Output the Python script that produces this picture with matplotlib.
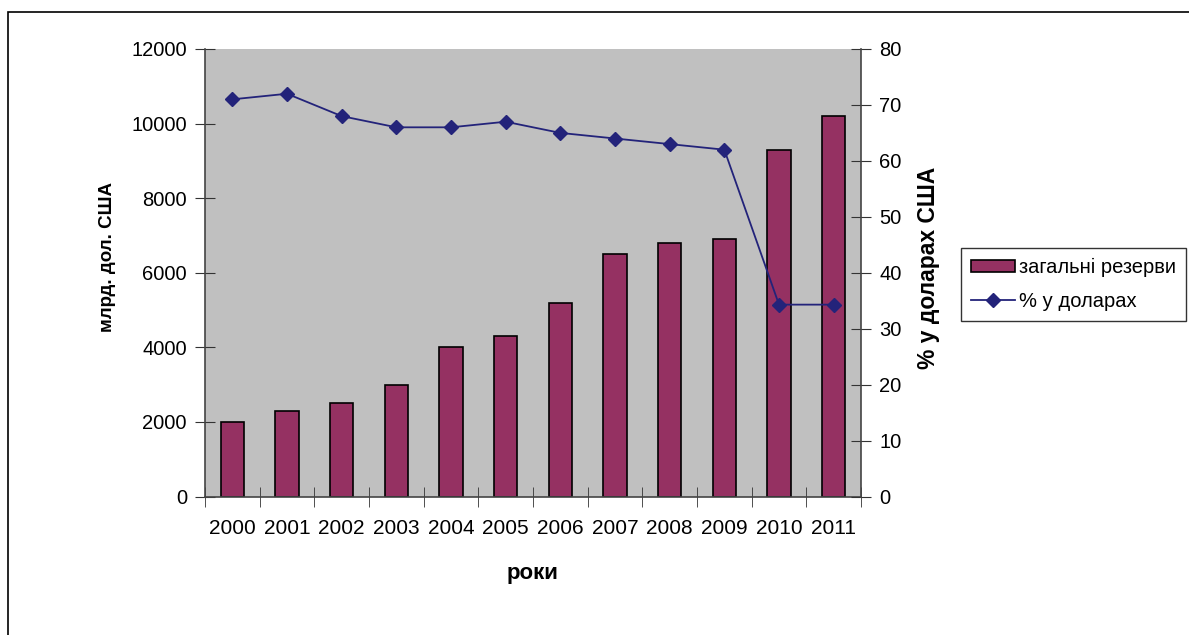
import matplotlib
matplotlib.use('Agg')
import matplotlib.pyplot as plt
from matplotlib.patches import Rectangle
import numpy as np

plt.rcParams['font.family'] = ['Liberation Sans', 'DejaVu Sans']

years = ['2000', '2001', '2002', '2003', '2004', '2005',
         '2006', '2007', '2008', '2009', '2010', '2011']
reserves = [2000, 2300, 2500, 3000, 4000, 4300, 5200, 6500, 6800, 6900, 9300, 10200]
usd_share = [71, 72, 68, 66, 66, 67, 65, 64, 63, 62, 34.3, 34.3]

W, H = 1189, 635
fig = plt.figure(figsize=(W / 100, H / 100), dpi=100)

# рамка вокруг всей диаграммы
fig.patches.append(Rectangle((8 / W, -0.1), 1.2, 1.1 - 12 / H, transform=fig.transFigure,
                             fill=False, edgecolor='black', linewidth=1.2))

ax = fig.add_axes([205 / W, (H - 496.5) / H, 656 / W, 447.5 / H])
ax.set_facecolor('#C0C0C0')
x = np.arange(len(years))
ax.bar(x, reserves, width=0.43, color='#953162', edgecolor='black', linewidth=1.2,
       label='загальні резерви', zorder=2)
ax.set_xlim(-0.5, len(years) - 0.5)
ax.set_ylim(0, 12000)
ax.set_yticks(range(0, 12001, 2000))
ax.set_xticks(x)
ax.set_xticklabels(years)
ax.set_xticks(np.arange(-0.5, len(years), 1), minor=True)
ax.tick_params(axis='x', which='major', length=0, pad=16, labelsize=15)
ax.tick_params(axis='x', which='minor', length=14, direction='inout', color='#333333')
ax.tick_params(axis='y', length=14, direction='inout', labelsize=14.5, pad=6, color='#333333')
for s in ['top', 'right']:
    ax.spines[s].set_visible(False)
for s in ['left', 'bottom']:
    ax.spines[s].set_color('#444444')
    ax.spines[s].set_linewidth(1.2)

ax2 = ax.twinx()
ax2.plot(x, usd_share, color='#23237A', marker='D', markersize=7, linewidth=1.3,
         label='% у доларах', zorder=3)
ax2.set_ylim(0, 80)
ax2.set_yticks(range(0, 81, 10))
ax2.tick_params(axis='y', length=14, direction='inout', labelsize=14.5, pad=6, color='#333333')
for s in ['top', 'left', 'bottom']:
    ax2.spines[s].set_visible(False)
ax2.spines['right'].set_color('#444444')
ax2.spines['right'].set_linewidth(1.2)

# подписи осей
fig.text(108 / W, 1 - 257 / H, 'млрд. дол. США', rotation=90, ha='center', va='center',
         fontsize=13.5, fontweight='bold')
fig.text(928 / W, 1 - 268 / H, '% у доларах США', rotation=90, ha='center', va='center',
         fontsize=16.5, fontweight='bold')
fig.text(533 / W, 1 - 573 / H, 'роки', ha='center', va='center',
         fontsize=16, fontweight='bold')

h1, l1 = ax.get_legend_handles_labels()
h2, l2 = ax2.get_legend_handles_labels()
leg = fig.legend(h1 + h2, l1 + l2, loc='upper left', bbox_to_anchor=(961 / W, 1 - 248 / H),
                 fontsize=14.5, frameon=True, fancybox=False, edgecolor='black',
                 handlelength=2.2, handleheight=0.6, labelspacing=0.75, borderpad=0.5,
                 handletextpad=0.2, borderaxespad=0)
leg.get_frame().set_linewidth(1.0)

fig.savefig('out.png', dpi=100)
